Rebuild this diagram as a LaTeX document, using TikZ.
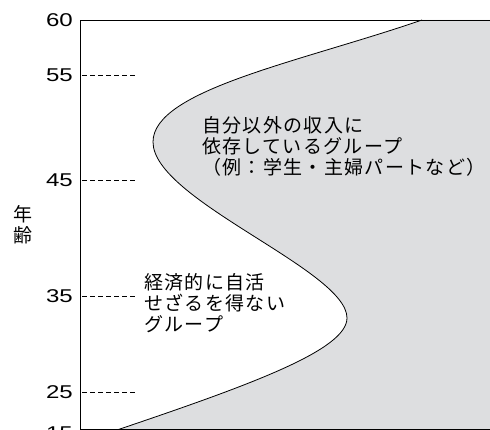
\documentclass[tikz,border=0pt]{standalone}
\usepackage{fontspec}
\newfontfamily\jpfont[LetterSpace=7]{Noto Sans CJK JP}
\newfontfamily\numfont[FakeStretch=1.3]{Liberation Sans}
\definecolor{areagray}{RGB}{221,222,224}
\begin{document}
\begin{tikzpicture}[x=1pt,y=-1pt,
        num/.style={font=\numfont\fontsize{18.5}{20}\selectfont,anchor=east,inner sep=0pt},
        jp/.style={font=\jpfont\fontsize{19}{21}\selectfont,align=left,anchor=west,inner sep=0pt}]
    \clip (0,0) rectangle (490,430);
    % area right of the boundary curve
    \fill[areagray] (117,430) .. controls (250,385) and (347,350) .. (347,318)
        .. controls (347,270) and (153,200) .. (153,142)
        .. controls (153,90) and (300,62) .. (422,20) -- (490,20) -- (490,430) -- cycle;
    \draw[line width=0.8pt] (117,430) .. controls (250,385) and (347,350) .. (347,318)
        .. controls (347,270) and (153,200) .. (153,142)
        .. controls (153,90) and (300,62) .. (422,20);
    % frame
    \draw[line width=0.9pt] (490,20.5) -- (80.5,20.5) -- (80.5,430);
    \draw[line width=1.2pt] (422,20.5) -- (490,20.5);
    \draw[line width=0.9pt] (80.5,429.5) -- (490,429.5);
    % ages
    \foreach \age/\ypos in {60/20,55/75,45/180,35/296,25/392,15/433}
        \node[num] (age\age) at (73,\ypos) {\age};
    \foreach \age in {55,45,35,25}
        \draw[line width=0.8pt,dash pattern=on 4.5pt off 3.5pt] (age\age.east) ++(9,0) -- ++(54,0);
    \node[jp,anchor=center,align=center] (nenrei) at (22.5,225) {年\\齢};
    \node[jp] (dependent) at (202,146) {自分以外の収入に\\依存しているグループ\\（例：学生・主婦パートなど）};
    \node[jp] (selfsupport) at (144,303) {経済的に自活\\せざるを得ない\\グループ};
\end{tikzpicture}
\end{document}
